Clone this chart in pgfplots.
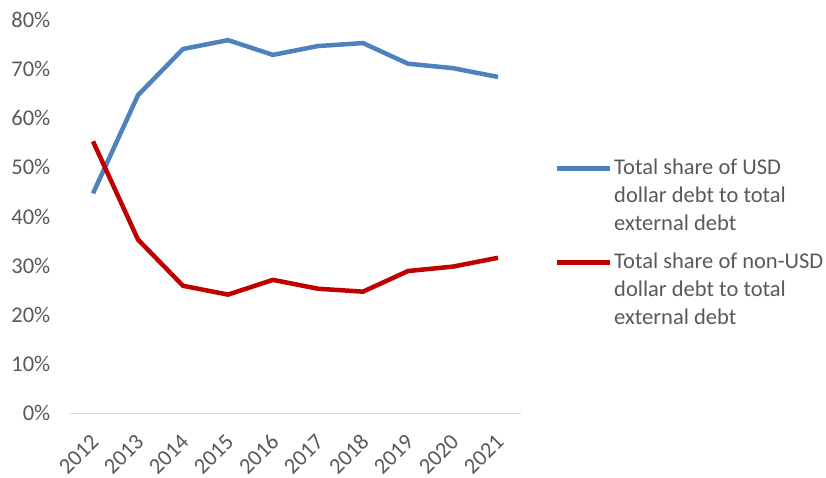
\documentclass[border=0pt]{standalone}
\usepackage{pgfplots}
\pgfplotsset{compat=1.18}
\usepackage{fontspec}
\setmainfont{Carlito}
\definecolor{usdblue}{HTML}{4F81BD}
\definecolor{nonred}{HTML}{C00000}
\definecolor{txtgray}{HTML}{595959}
\definecolor{axgray}{HTML}{D9D9D9}
\begin{document}
\fontsize{22.5bp}{28bp}\selectfont
\begin{tikzpicture}
\begin{axis}[
  name=ax, at={(0,0)}, anchor=south west,
  scale only axis, width=450bp, height=393bp,
  xmin=-0.5, xmax=9.5, ymin=0, ymax=80,
  xtick={0,...,9},
  xticklabels={2012,2013,2014,2015,2016,2017,2018,2019,2020,2021},
  ytick={0,10,...,80},
  yticklabel={\pgfmathprintnumber{\tick}\%},
  /pgf/number format/assume math mode=true,
  axis x line*=bottom, axis y line*=left,
  x axis line style={axgray, line width=1bp, -},
  y axis line style={draw=none},
  major tick length=0pt,
  tick style={draw=none},
  tick label style={font=\fontsize{22.5bp}{28bp}\selectfont, text=txtgray},
  yticklabel style={anchor=east, inner sep=0pt, xshift=-20bp},
  xticklabel style={xshift=2bp, yshift=-25bp, rotate=45, anchor=east, inner sep=0pt},
  legend style={at={(rel axis cs:1,1)}, anchor=north west, xshift=34bp, yshift=-137bp,
    draw=none, fill=none, font=\fontsize{22.5bp}{28bp}\selectfont, text=txtgray,
    row sep=15bp, inner sep=0pt,
    cells={align=left, anchor=west}},
  legend cell align=left,
  legend image code/.code={\draw[#1] (0bp,28bp) -- (53bp,28bp);},
  clip=false,
]
\addplot[usdblue, line width=4.5bp] coordinates {
(0,44.7) (1,64.7) (2,74.1) (3,75.9) (4,72.9) (5,74.7) (6,75.3) (7,71.1) (8,70.2) (9,68.4)};
\addlegendentry{Total share of USD\\dollar debt to total\\external debt}
\addplot[nonred, line width=4.5bp] coordinates {
(0,55.3) (1,35.3) (2,25.9) (3,24.1) (4,27.1) (5,25.3) (6,24.7) (7,28.9) (8,29.8) (9,31.6)};
\addlegendentry{Total share of non-USD\\dollar debt to total\\external debt}
\end{axis}
\pgfresetboundingbox
\path[use as bounding box] (-70.5bp,-65bp) rectangle (755.5bp,413bp);
\end{tikzpicture}
\end{document}
